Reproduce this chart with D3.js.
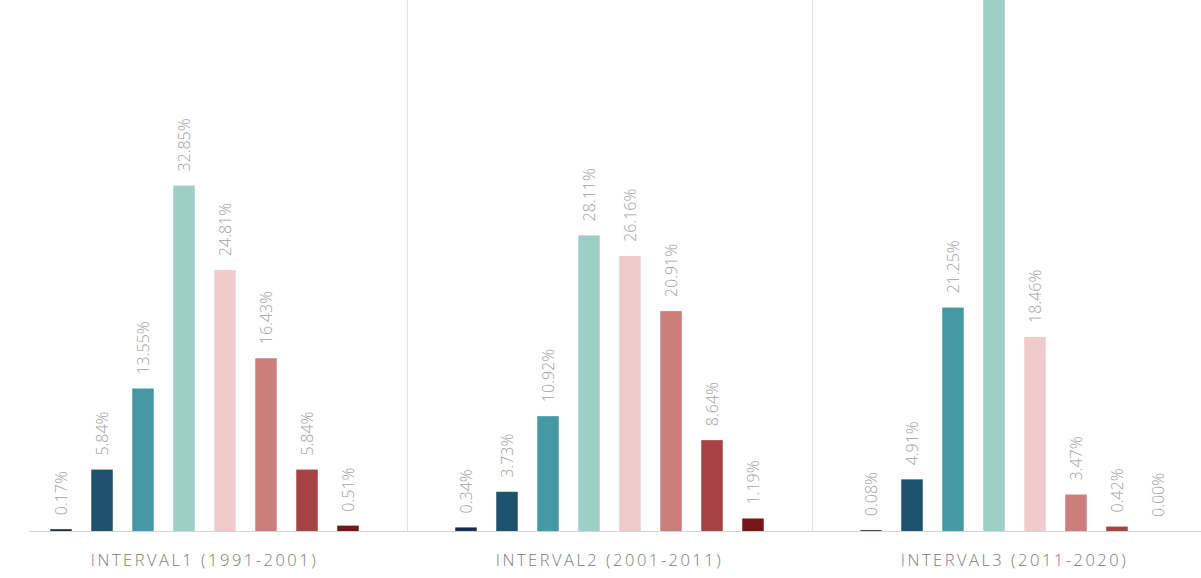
<!DOCTYPE html>
<html>
<head>
<meta charset="utf-8">
<script src="https://cdn.jsdelivr.net/npm/d3@7"></script>
<style>
  html, body { margin: 0; padding: 0; background: #fff; }
  svg { display: block; }
  text { font-family: "Segoe UI Light", "Open Sans", "Lato", sans-serif; font-weight: 300; }
</style>
</head>
<body>
<svg id="chart" width="1201" height="578"></svg>
<script>
const intervals = ["INTERVAL1 (1991-2001)", "INTERVAL2 (2001-2011)", "INTERVAL3 (2011-2020)"];
const seriesNames = ["S1", "S2", "S3", "S4", "S5", "S6", "S7", "S8"];
const interval1 = [0.17, 5.84, 13.55, 32.85, 24.81, 16.43, 5.84, 0.51];
const interval2 = [0.34, 3.73, 10.92, 28.11, 26.16, 20.91, 8.64, 1.19];
const interval3 = [0.08, 4.91, 21.25, 51.41, 18.46, 3.47, 0.42, 0.00];
const colors = ["#1c2c4c", "#1f526d", "#4499a3", "#9dcfc7", "#efcbcb", "#cc7e7c", "#a44244", "#751618"];

const values = [interval1, interval2, interval3];
const W = 1201, H = 578;
const baseY = 531;

const svg = d3.select("#chart");

const x0 = d3.scaleBand().domain(intervals).range([2, 1217]).padding(0);
const x1 = d3.scaleBand().domain(seriesNames).range([0, x0.bandwidth()])
  .paddingInner(0.476).paddingOuter(1.177);
const y = d3.scaleLinear().domain([0, 50.5]).range([baseY, 0]);
const color = d3.scaleOrdinal().domain(seriesNames).range(colors);

// separators
svg.selectAll("line.sep")
  .data(intervals.slice(1))
  .join("line")
  .attr("class", "sep")
  .attr("x1", d => x0(d) + 0.5).attr("x2", d => x0(d) + 0.5)
  .attr("y1", 0).attr("y2", baseY)
  .attr("stroke", "#e2e2e2").attr("stroke-width", 1);

const groups = svg.selectAll("g.grp")
  .data(intervals.map((name, i) => ({ name, vals: values[i] })))
  .join("g")
  .attr("class", "grp")
  .attr("transform", d => `translate(${x0(d.name)},0)`);

groups.selectAll("rect")
  .data(d => d.vals.map((v, j) => ({ key: seriesNames[j], v })))
  .join("rect")
  .attr("x", d => x1(d.key))
  .attr("width", x1.bandwidth())
  .attr("y", d => Math.max(0, y(d.v)))
  .attr("height", d => baseY - Math.max(0, y(d.v)))
  .attr("fill", d => color(d.key));

// value labels (those that would fall above the visible area are not drawn, as in the original)
groups.selectAll("text.val")
  .data(d => d.vals.map((v, j) => ({ key: seriesNames[j], v })).filter(d => y(d.v) - 14 > 60))
  .join("text")
  .attr("class", "val")
  .attr("transform", d => `translate(${x1(d.key) + x1.bandwidth() / 2},${y(d.v) - 14}) rotate(-90)`)
  .attr("dy", "0.35em")
  .attr("text-anchor", "start")
  .attr("fill", "#a2a2a2")
  .attr("font-size", 16)
  .text(d => d.v.toFixed(2) + "%");

// baseline axis
const xAxis = d3.axisBottom(x0).tickSize(0).tickPadding(23);
const ax = svg.append("g").attr("transform", `translate(0,${baseY})`).call(xAxis);
ax.select(".domain").remove();
ax.selectAll("text")
  .attr("fill", "#7a7a7a")
  .attr("font-size", 16.5)
  .attr("letter-spacing", "2.5px")
  .attr("font-family", "\"Segoe UI Light\", \"Open Sans\", sans-serif");
svg.append("line")
  .attr("x1", 29).attr("x2", W)
  .attr("y1", baseY + 0.5).attr("y2", baseY + 0.5)
  .attr("stroke", "#d4d4d4").attr("stroke-width", 1);
</script>
</body>
</html>
